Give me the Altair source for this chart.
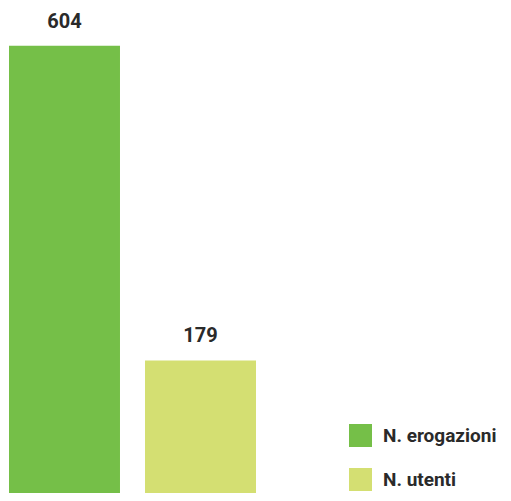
import altair as alt
import pandas as pd

categories = ["N. erogazioni", "N. utenti"]
values = [604, 179]
colors = ["#75bf48", "#d4df72"]

df = pd.DataFrame({"cat": categories, "val": values})

FONT = "Roboto"

x = alt.X("cat:N", sort=categories,
          scale=alt.Scale(domain=categories, range=[1, 248], paddingInner=0.184, paddingOuter=0),
          axis=None)
y = alt.Y("val:Q", scale=alt.Scale(domain=[0, 655], nice=False, zero=True), axis=None)

color = alt.Color(
    "cat:N",
    scale=alt.Scale(domain=categories, range=colors),
    legend=alt.Legend(
        title=None,
        orient="none",
        legendX=341,
        legendY=416,
        symbolType="square",
        symbolSize=529,
        symbolStrokeWidth=0,
        symbolOpacity=1,
        labelFont=FONT,
        labelFontSize=19,
        labelFontWeight="bold",
        labelColor="#2a2a2a",
        labelOffset=11,
        labelLimit=0,
        rowPadding=21,
        padding=0,
    ),
)

bars = alt.Chart(df).mark_bar().encode(x=x, y=y, color=color)

labels = alt.Chart(df).mark_text(
    font=FONT, fontSize=20, fontWeight="bold", color="#2a2a2a",
    baseline="alphabetic", dy=-18,
).encode(x=x, y=y, text=alt.Text("val:Q"))

chart = alt.layer(bars, labels).properties(
    width=495, height=485, padding=0, autosize="none"
).configure_view(stroke=None)

chart.save("out.html", embed_options={"renderer": "svg", "actions": False})
